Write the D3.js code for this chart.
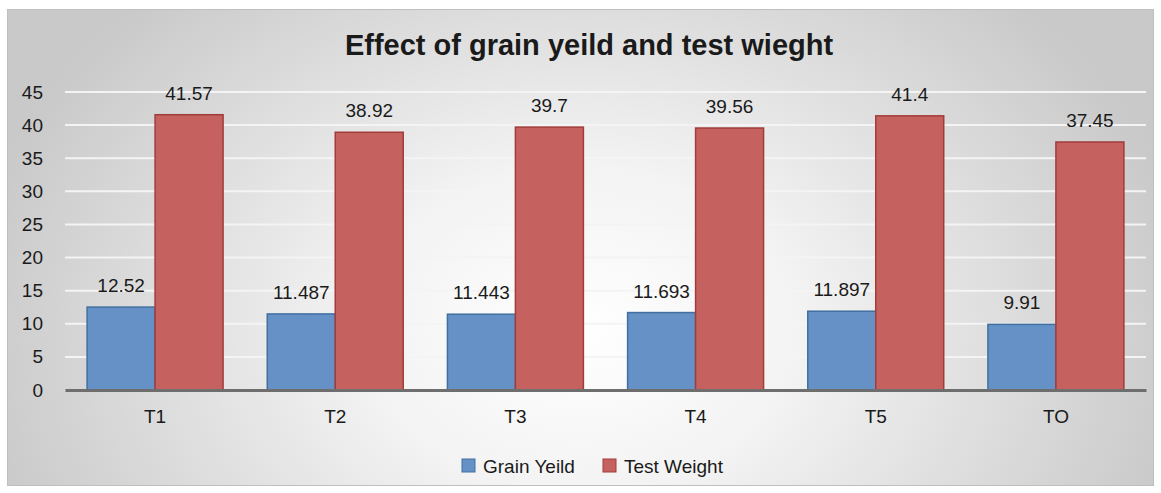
<!DOCTYPE html>
<html>
<head>
<meta charset="utf-8">
<script src="https://cdn.jsdelivr.net/npm/d3@7"></script>
<style>
  body { margin: 0; background: #fff; }
  svg text { font-family: "Liberation Sans", Arial, sans-serif; fill: #1a1a1a; }
</style>
</head>
<body>
<div id="chart"></div>
<script>
const categories = ['T1', 'T2', 'T3', 'T4', 'T5', 'TO'];
const grainYield = [12.52, 11.487, 11.443, 11.693, 11.897, 9.91];
const testWeight = [41.57, 38.92, 39.7, 39.56, 41.4, 37.45];
const seriesNames = ['Grain Yeild', 'Test Weight'];
const yTicks = [0, 5, 10, 15, 20, 25, 30, 35, 40, 45];

const svgWidth = 1161, svgHeight = 493;
const margin = { top: 92, right: 15, bottom: 103, left: 65 };
const width = svgWidth - margin.left - margin.right,
      height = svgHeight - margin.top - margin.bottom;

const svg = d3.select('#chart').append('svg')
  .attr('width', svgWidth)
  .attr('height', svgHeight);

// background gradient
const defs = svg.append('defs');
const grad = defs.append('radialGradient')
  .attr('id', 'bg')
  .attr('gradientUnits', 'userSpaceOnUse')
  .attr('cx', 580).attr('cy', 330).attr('r', 620)
  .attr('gradientTransform', 'translate(580,330) scale(1,0.75) translate(-580,-330)');
grad.append('stop').attr('offset', '0%').attr('stop-color', '#ffffff');
grad.append('stop').attr('offset', '35%').attr('stop-color', '#f3f3f3');
grad.append('stop').attr('offset', '100%').attr('stop-color', '#c9c9c9');

svg.append('rect')
  .attr('x', 7.5).attr('y', 9.5)
  .attr('width', 1146).attr('height', 476)
  .attr('fill', 'url(#bg)')
  .attr('stroke', '#bfbfbf')
  .attr('stroke-width', 1);

svg.append('text')
  .attr('x', 589).attr('y', 55)
  .attr('text-anchor', 'middle')
  .style('font-size', '29px')
  .style('font-weight', 'bold')
  .text('Effect of grain yeild and test wieght');

const g = svg.append('g')
  .attr('transform', `translate(${margin.left},${margin.top})`);

const x = d3.scaleBand().domain(categories).range([0, width]);
const x1 = d3.scaleBand().domain(seriesNames)
  .range([0, x.bandwidth()])
  .paddingOuter(0.325);
const y = d3.scaleLinear().domain([0, 45]).range([height, 0]);

// gridlines
g.append('g')
  .selectAll('line')
  .data(yTicks.slice(1))
  .join('line')
  .attr('x1', 0).attr('x2', width)
  .attr('y1', d => y(d)).attr('y2', d => y(d))
  .attr('stroke', '#f4f4f4')
  .attr('stroke-width', 2);

// y axis
const yAxis = d3.axisLeft(y).tickValues(yTicks).tickSize(0).tickPadding(22);
g.append('g').call(yAxis)
  .call(a => a.select('.domain').remove())
  .selectAll('text')
  .style('font-size', '19px')
  .attr('fill', '#1a1a1a');

const series = [
  { name: seriesNames[0], values: grainYield, fill: '#6591c7', stroke: '#41709f' },
  { name: seriesNames[1], values: testWeight, fill: '#c5625f', stroke: '#a13c3a' }
];

series.forEach(s => {
  const grp = g.append('g');
  grp.selectAll('rect')
    .data(categories)
    .join('rect')
    .attr('x', (c) => x(c) + x1(s.name))
    .attr('y', (c, i) => y(s.values[i]))
    .attr('width', x1.bandwidth())
    .attr('height', (c, i) => height - y(s.values[i]))
    .attr('fill', s.fill)
    .attr('stroke', s.stroke)
    .attr('stroke-width', 1.5);
  grp.selectAll('text')
    .data(categories)
    .join('text')
    .attr('x', c => x(c) + x1(s.name) + x1.bandwidth() / 2)
    .attr('y', (c, i) => y(s.values[i]) - 15)
    .attr('text-anchor', 'middle')
    .style('font-size', '19px')
    .text((c, i) => s.values[i]);
});

// x axis
const xAxis = d3.axisBottom(x).tickSize(0).tickPadding(20);
g.append('g')
  .attr('transform', `translate(0,${height})`)
  .call(xAxis)
  .call(a => a.select('.domain')
    .attr('stroke', '#6e6e6e').attr('stroke-width', 3))
  .selectAll('text')
  .style('font-size', '19px')
  .attr('fill', '#1a1a1a');

// legend
const legend = svg.append('g').attr('transform', 'translate(462,466)');
const legendX = d3.scaleOrdinal().domain(seriesNames).range([0, 141]);
series.forEach(s => {
  const item = legend.append('g').attr('transform', `translate(${legendX(s.name)},0)`);
  item.append('rect')
    .attr('x', 0).attr('y', -7)
    .attr('width', 13).attr('height', 13)
    .attr('fill', s.fill)
    .attr('stroke', s.stroke);
  item.append('text')
    .attr('x', 21).attr('y', 7)
    .style('font-size', '19px')
    .text(s.name);
});
</script>
</body>
</html>
